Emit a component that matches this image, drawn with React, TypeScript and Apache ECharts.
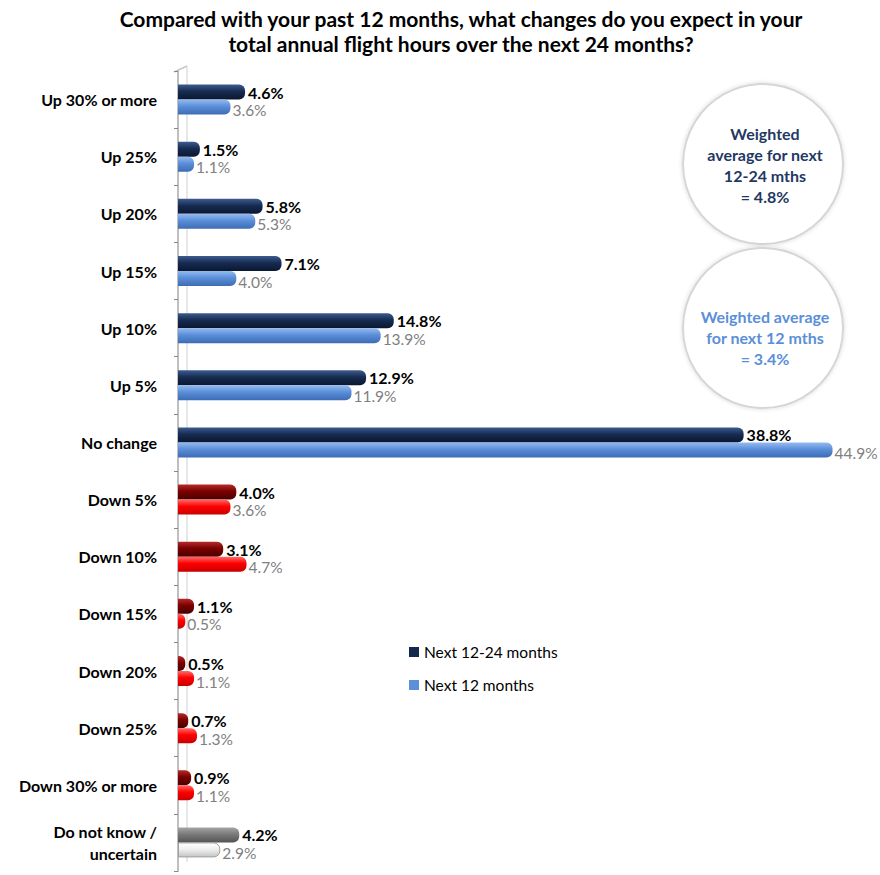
import React, { useEffect, useRef } from "react";
import * as echarts from "echarts";

const categories = [
  "Up 30% or more", "Up 25%", "Up 20%", "Up 15%", "Up 10%", "Up 5%", "No change",
  "Down 5%", "Down 10%", "Down 15%", "Down 20%", "Down 25%", "Down 30% or more",
  "Do not know /\nuncertain",
];
const next1224 = [4.6, 1.5, 5.8, 7.1, 14.8, 12.9, 38.8, 4.0, 3.1, 1.1, 0.5, 0.7, 0.9, 4.2];
const next12 = [3.6, 1.1, 5.3, 4.0, 13.9, 11.9, 44.9, 3.6, 4.7, 0.5, 1.1, 1.3, 1.1, 2.9];
const groups = ["up", "up", "up", "up", "up", "up", "up", "down", "down", "down", "down", "down", "down", "dk"];

const grad = (a: string, b: string, c: string) =>
  new echarts.graphic.LinearGradient(0, 0, 0, 1, [
    { offset: 0, color: a },
    { offset: 0.45, color: b },
    { offset: 1, color: c },
  ]);

const darkFill: Record<string, () => any> = {
  up: () => grad("#3d5c8f", "#172c52", "#0a1730"),
  down: () => grad("#b52a2a", "#7a0000", "#4a0000"),
  dk: () => grad("#a6a6a6", "#7a7a7a", "#545454"),
};
const lightFill: Record<string, () => any> = {
  up: () => grad("#95bbf0", "#5b8fd9", "#3d6cb5"),
  down: () => grad("#ff6a6a", "#ff0000", "#c80000"),
  dk: () => grad("#ffffff", "#f0f0f0", "#c4c4c4"),
};

export default function App() {
  const ref = useRef<HTMLDivElement>(null);
  useEffect(() => {
    if (!ref.current) return;
    const chart = echarts.init(ref.current, undefined, { renderer: "svg" });
    const font = "Lato, 'Open Sans', sans-serif";
    const radius: [number, number, number, number] = [0, 6, 6, 0];
    chart.setOption({
      animation: false,
      textStyle: { fontFamily: font },
      title: {
        text: "Compared with your past 12 months, what changes do you expect in your\ntotal annual flight hours over the next 24 months?",
        left: 456,
        top: 1,
        textAlign: "center",
        textStyle: { fontSize: 21, fontWeight: "bold", color: "#000", lineHeight: 25, fontFamily: font },
      },
      legend: {
        orient: "vertical",
        left: 404,
        top: 639,
        itemWidth: 10,
        itemHeight: 10,
        itemGap: 17,
        icon: "rect",
        textStyle: { fontSize: 15.5, color: "#000", fontFamily: font },
        data: ["Next 12-24 months", "Next 12 months"],
      },
      grid: { left: 178, right: 46, top: 71, bottom: 4, containLabel: false },
      xAxis: { type: "value", min: 0, max: 45, show: false },
      yAxis: {
        type: "category",
        inverse: true,
        data: categories,
        offset: 4,
        axisLine: { show: true, lineStyle: { color: "#bfbfbf", width: 2 } },
        axisTick: { show: true, length: 4, lineStyle: { color: "#888" } },
        axisLabel: {
          fontSize: 16,
          fontWeight: "bold",
          color: "#000",
          margin: 17,
          lineHeight: 22,
          fontFamily: font,
        },
      },
      graphic: [
        { type: "line", shape: { x1: 187, y1: 66, x2: 187, y2: 862 }, style: { stroke: "#d0d0d0", lineWidth: 1 }, z: 0 },
        { type: "line", shape: { x1: 174, y1: 72, x2: 187, y2: 66 }, style: { stroke: "#c8c8c8", lineWidth: 1.5 }, z: 0 },
        { type: "circle", shape: { cx: 763, cy: 164, r: 80 }, style: { fill: "#fff", stroke: "#d6d6d6", lineWidth: 2, shadowBlur: 4, shadowColor: "rgba(0,0,0,0.15)" }, z: 5 },
        { type: "circle", shape: { cx: 763, cy: 328, r: 80 }, style: { fill: "#fff", stroke: "#d6d6d6", lineWidth: 2, shadowBlur: 4, shadowColor: "rgba(0,0,0,0.15)" }, z: 5 },
        {
          type: "text", x: 765, y: 165, z: 6,
          style: {
            text: "Weighted\naverage for next\n12-24 mths\n= 4.8%",
            fill: "#1f3864", font: `bold 16px ${font}`, align: "center", verticalAlign: "middle", lineHeight: 21,
          },
        },
        {
          type: "text", x: 765, y: 337, z: 6,
          style: {
            text: "Weighted average\nfor next 12 mths\n= 3.4%",
            fill: "#5b8fd9", font: `bold 16px ${font}`, align: "center", verticalAlign: "middle", lineHeight: 21,
          },
        },
      ],
      series: [
        {
          name: "Next 12-24 months",
          type: "bar",
          barWidth: 15,
          barGap: "0%",
          barCategoryGap: "40%",
          itemStyle: { color: "#14284b" },
          label: {
            show: true,
            position: "right",
            distance: 3,
            formatter: (p: any) => p.value.toFixed(1) + "%",
            fontSize: 16,
            fontWeight: "bold",
            color: "#000",
            fontFamily: font,
            offset: [0, 0],
          },
          data: next1224.map((v, i) => ({
            value: v,
            itemStyle: { color: darkFill[groups[i]](), borderRadius: radius },
          })),
        },
        {
          name: "Next 12 months",
          type: "bar",
          barWidth: 15,
          barGap: "0%",
          itemStyle: { color: "#5b8fd9" },
          label: {
            show: true,
            position: "right",
            distance: 2,
            formatter: (p: any) => p.value.toFixed(1) + "%",
            fontSize: 15.5,
            color: "#808080",
            fontFamily: font,
            offset: [0, 3],
          },
          data: next12.map((v, i) => ({
            value: v,
            itemStyle: {
              color: lightFill[groups[i]](),
              borderRadius: radius,
              borderColor: groups[i] === "dk" ? "#a0a0a0" : "transparent",
              borderWidth: groups[i] === "dk" ? 1 : 0,
            },
          })),
        },
      ],
    });
    return () => chart.dispose();
  }, []);
  return <div ref={ref} style={{ position: "absolute", left: 0, top: 0, width: 880, height: 875 }} />;
}
